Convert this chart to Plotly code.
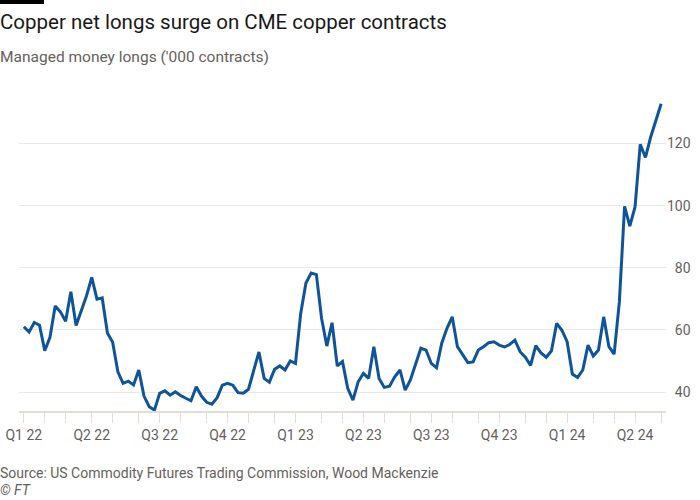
import pandas as pd
import plotly.graph_objects as go

# Weekly CFTC report dates (Tuesdays)
start_date = "2022-01-04"
n_weeks = 123
dates = pd.date_range(start_date, periods=n_weeks, freq="7D")

# Managed money longs ('000 contracts)
longs = [
    61.0, 59.3, 62.4, 61.5, 53.3, 57.6, 67.7, 65.8, 62.8, 72.3,
    61.4, 66.0, 71.0, 76.9, 69.9, 70.3, 59.0, 56.0, 46.5, 42.8,
    43.5, 42.3, 47.1, 38.7, 35.3, 34.2, 39.6, 40.4, 39.0, 40.1,
    38.9, 38.0, 37.2, 41.7, 38.7, 36.7, 36.1, 38.2, 42.2, 42.8,
    42.2, 39.8, 39.6, 40.9, 47.1, 52.9, 44.4, 43.2, 47.3, 48.4,
    47.1, 50.0, 49.2, 65.3, 75.1, 78.3, 77.8, 63.7, 54.8, 62.3,
    48.4, 49.8, 41.2, 37.4, 43.3, 46.0, 44.4, 54.6, 44.4, 41.5,
    41.9, 44.9, 47.1, 40.6, 43.9, 49.2, 54.1, 53.5, 49.2, 47.8,
    55.7, 60.5, 64.2, 54.6, 51.9, 49.5, 49.7, 53.5, 54.6, 55.9,
    56.2, 55.1, 54.5, 55.3, 56.7, 53.0, 51.2, 48.6, 54.9, 52.6,
    51.2, 53.3, 62.1, 59.9, 56.2, 45.8, 44.7, 47.1, 55.1, 51.6,
    53.5, 64.2, 54.6, 52.2, 69.0, 99.8, 93.4, 99.6, 119.7, 115.5,
    122.1, 127.5, 132.8,
]

y_tick_values = [40, 60, 80, 100, 120]
y_tick_labels = ["\u200740", "\u200760", "\u200780", "100", "120"]

title_text = "Copper net longs surge on CME copper contracts"
subtitle_text = "Managed money longs ('000 contracts)"
source_text = "Source: US Commodity Futures Trading Commission, Wood Mackenzie"
credit_text = "© FT"

s = pd.Series(dates)
# first report date of each month / quarter
month_first = s.groupby(s.dt.to_period("M")).min().tolist()
quarter_first = s.groupby(s.dt.to_period("Q")).min().tolist()
quarter_labels = [f"Q{d.quarter} {d.strftime('%y')}" for d in quarter_first]

W, H = 700, 500
ml, mr, mt, mb = 19, 34, 100, 89
pw, ph = W - ml - mr, H - mt - mb

grey = "#66605c"
font_family = "Roboto, 'Open Sans', sans-serif"

fig = go.Figure()
fig.add_trace(go.Scatter(
    x=dates, y=longs, mode="lines",
    line=dict(color="#0f5499", width=3),
    hoverinfo="skip", showlegend=False,
))

pad = pd.Timedelta(days=6.5)
fig.update_layout(
    width=W, height=H,
    margin=dict(l=ml, r=mr, t=mt, b=mb, autoexpand=False),
    paper_bgcolor="white", plot_bgcolor="white",
    font=dict(family=font_family, color=grey, size=14),
    xaxis=dict(
        automargin=False,
        range=[dates[0] - pad, dates[-1] + pad],
        tickmode="array", tickvals=quarter_first, ticktext=quarter_labels,
        ticks="outside", ticklen=10, tickcolor="#e3ddd8", tickwidth=1,
        showgrid=False, zeroline=False,
        showline=True, linecolor="#e3ddd8", linewidth=2,
        tickfont=dict(size=14, color=grey),
        minor=dict(tickmode="array", tickvals=month_first, ticks="outside",
                   ticklen=10, tickcolor="#e3ddd8", tickwidth=1, showgrid=False),
    ),
    yaxis=dict(
        automargin=False,
        range=[33.9, 134.0], side="right",
        tickmode="array", tickvals=y_tick_values, ticktext=y_tick_labels,
        showgrid=True, gridcolor="#ece8e4", gridwidth=1,
        zeroline=False, showline=False, ticks="",
        tickfont=dict(size=14, color=grey),
    ),
    shapes=[dict(
        type="rect", xref="paper", yref="paper",
        x0=(0 - ml) / pw, x1=(44 - ml) / pw,
        y0=(H - mb - 4) / ph, y1=(H - mb) / ph,
        fillcolor="black", line=dict(width=0),
    )],
)

def px_annot(text, py, size, color, italic=False):
    fig.add_annotation(
        text=text, xref="paper", yref="paper",
        x=(0 - ml) / pw, y=(H - mb - py) / ph,
        xanchor="left", yanchor="middle", showarrow=False,
        borderpad=0, xshift=-1,
        font=dict(size=size, color=color, family=font_family,
                  style="italic" if italic else "normal"),
    )

px_annot(title_text, 22, 20.5, "#1a1817")
px_annot(subtitle_text, 57, 15.5, grey)
px_annot(source_text, 473, 14, grey)
px_annot(credit_text, 490, 14, grey, italic=True)

fig.write_html(
    "out.html",
    config={"displayModeBar": False, "staticPlot": True},
    post_script="document.body.style.margin='0';document.body.style.overflow='hidden';",
)
